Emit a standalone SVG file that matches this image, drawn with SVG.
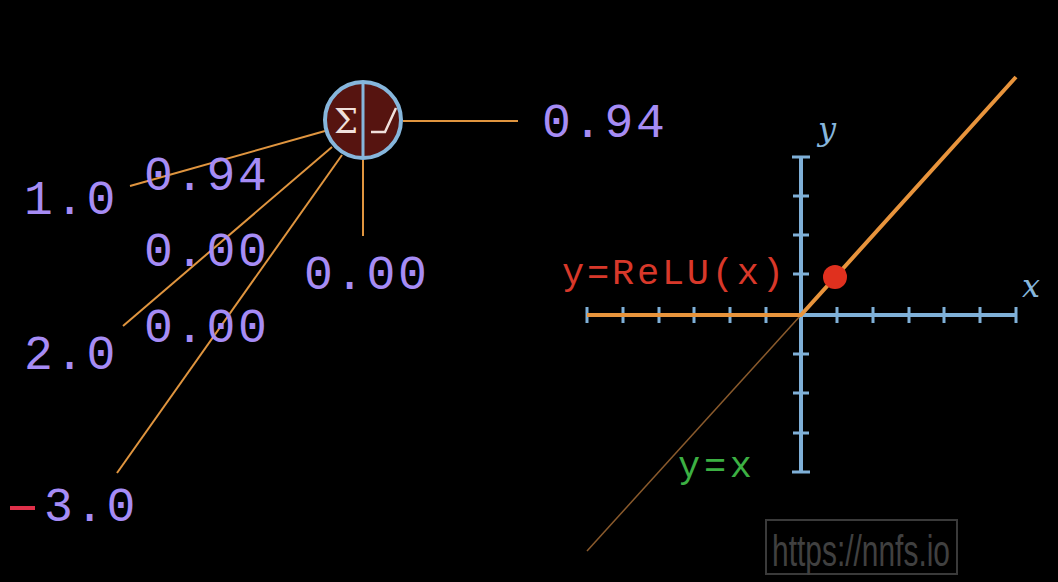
<svg xmlns="http://www.w3.org/2000/svg" width="1058" height="582" viewBox="0 0 1058 582">
<style>
.num{font-family:"Liberation Mono","DejaVu Sans Mono",monospace;font-size:48px;letter-spacing:2.5px;fill:#a68cf5}
.conn{stroke:#e0953f;stroke-width:2;fill:none}
.axis{stroke:#7fb0d8;stroke-width:4;fill:none}
.tick{stroke:#7fb0d8;stroke-width:3}
</style>
<rect width="1058" height="582" fill="#000"/>
<g id="connectors">
<line class="conn" x1="130" y1="186" x2="325" y2="131"/>
<line class="conn" x1="123" y1="326" x2="332" y2="147"/>
<line class="conn" x1="117" y1="473" x2="342" y2="155"/>
<line class="conn" x1="363" y1="160" x2="363" y2="236"/>
<line class="conn" x1="403" y1="121" x2="518" y2="121"/>
</g>
<g id="neuron">
<circle cx="363" cy="120" r="38" fill="#561410" stroke="#86b6dc" stroke-width="4"/>
<line x1="363" y1="82" x2="363" y2="158" stroke="#86b6dc" stroke-width="3"/>
<text x="346" y="133" font-family="DejaVu Serif,serif" font-size="34" fill="#f0e0dc" text-anchor="middle">Σ</text>
<path d="M371 132 H385 L396 108" stroke="#f0e0dc" stroke-width="2.5" fill="none"/>
</g>
<g id="inputs">
<text class="num" x="24" y="214">1.0</text>
<text class="num" x="24" y="369">2.0</text>
<line x1="10" y1="508" x2="35" y2="508" stroke="#e0304a" stroke-width="4"/>
<text class="num" x="44" y="521">3.0</text>
</g>
<g id="weights">
<text class="num" x="144" y="190">0.94</text>
<text class="num" x="144" y="266">0.00</text>
<text class="num" x="144" y="342">0.00</text>
</g>
<g id="bias"><text class="num" x="304" y="289">0.00</text></g>
<g id="output"><text class="num" x="542" y="137">0.94</text></g>
<g id="graph">
<line class="axis" x1="587" y1="315" x2="1017" y2="315"/>
<line class="axis" x1="801" y1="157" x2="801" y2="472"/>
<g class="tick">
<line x1="587" y1="307" x2="587" y2="323"/><line x1="623" y1="307" x2="623" y2="323"/><line x1="659" y1="307" x2="659" y2="323"/><line x1="694" y1="307" x2="694" y2="323"/><line x1="730" y1="307" x2="730" y2="323"/><line x1="766" y1="307" x2="766" y2="323"/><line x1="837" y1="307" x2="837" y2="323"/><line x1="873" y1="307" x2="873" y2="323"/><line x1="909" y1="307" x2="909" y2="323"/><line x1="944" y1="307" x2="944" y2="323"/><line x1="980" y1="307" x2="980" y2="323"/><line x1="1016" y1="307" x2="1016" y2="323"/>
<line x1="792" y1="157" x2="810" y2="157"/><line x1="793" y1="196" x2="809" y2="196"/><line x1="793" y1="235" x2="809" y2="235"/><line x1="793" y1="274" x2="809" y2="274"/><line x1="793" y1="354" x2="809" y2="354"/><line x1="793" y1="393" x2="809" y2="393"/><line x1="793" y1="433" x2="809" y2="433"/><line x1="792" y1="472" x2="810" y2="472"/>
</g>
<line x1="801" y1="315" x2="587" y2="551" stroke="#8a5a2c" stroke-width="1.5"/>
<polyline points="587,315 801,315 1016,77" stroke="#e8943c" stroke-width="4" fill="none"/>
<circle cx="835" cy="277" r="12" fill="#e0301e"/>
<text x="818" y="140" font-family="DejaVu Serif,serif" font-style="italic" font-size="32" fill="#86b6dc">y</text>
<text x="1022" y="297" font-family="DejaVu Serif,serif" font-style="italic" font-size="32" fill="#86b6dc">x</text>
<text x="562" y="284" font-family="Liberation Mono,monospace" font-size="37" fill="#d8382a" textLength="222" lengthAdjust="spacing">y=ReLU(x)</text>
<text x="678" y="477" font-family="Liberation Mono,monospace" font-size="37" fill="#3cb043" textLength="74" lengthAdjust="spacing">y=x</text>
</g>
<g id="watermark">
<rect x="766" y="520" width="191" height="54" fill="none" stroke="#3a3a3a" stroke-width="2"/>
<text x="861" y="566" font-family="Liberation Sans Narrow,Liberation Sans,sans-serif" font-size="44" fill="#404040" text-anchor="middle" textLength="178" lengthAdjust="spacingAndGlyphs">https://nnfs.io</text>
</g>
</svg>
